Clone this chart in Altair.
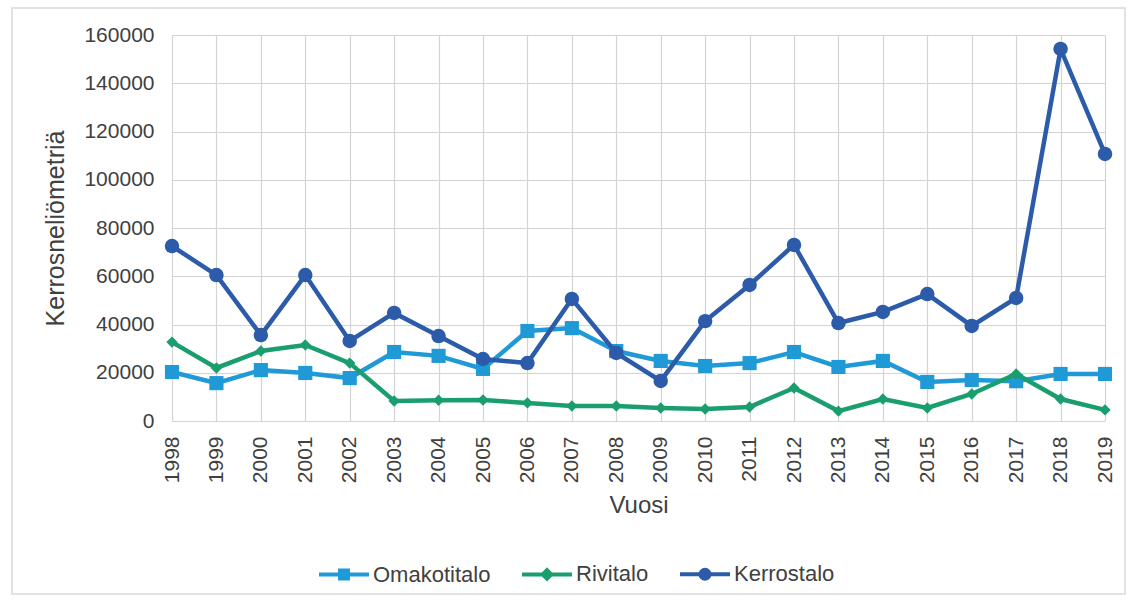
import altair as alt
import pandas as pd

years = list(range(1998, 2020))
series = ["Omakotitalo", "Rivitalo", "Kerrostalo"]
colors = ["#1F9AD6", "#1A9E6E", "#2B5BA9"]
shapes = ["square", "diamond", "circle"]
sizes = [200, 130, 210]

omakotitalo = [20300, 15700, 21100, 19900, 17800, 28600, 27000, 21600, 37300, 38500, 29000,
               24900, 22800, 24000, 28600, 22400, 24900, 16200, 17000, 16500, 19500, 19500]
rivitalo = [32700, 22000, 29000, 31500, 24000, 8300, 8600, 8700, 7500, 6200, 6200,
            5400, 5000, 5800, 13700, 4100, 9100, 5400, 11200, 19500, 9100, 4600]
kerrostalo = [72500, 60500, 35600, 60500, 33200, 44800, 35200, 25700, 24000, 50600, 28200,
              16600, 41400, 56400, 73000, 40600, 45200, 52600, 39400, 51000, 154200, 110700]

y_ticks = [0, 20000, 40000, 60000, 80000, 100000, 120000, 140000, 160000]

rows = []
for name, vals in zip(series, [omakotitalo, rivitalo, kerrostalo]):
    for yr, v in zip(years, vals):
        rows.append({"Vuosi": yr, "Sarja": name, "Arvo": v})
df = pd.DataFrame(rows)

FONT = "Liberation Sans"
TXT = "#404040"

# legend symbol paths: a line with the series marker on it
SQ = "M-1,0H1M-0.16,-0.16H0.16V0.16H-0.16Z"
DI = "M-1,0H1M0,-0.17L0.17,0L0,0.17L-0.17,0Z"
CI = "M-1,0H1M0.18,0A0.18,0.18,0,1,1,-0.18,0A0.18,0.18,0,1,1,0.18,0Z"
legend_shapes = [SQ, DI, CI]

legend = alt.Legend(
    title=None,
    orient="none",
    direction="horizontal",
    legendX=145,
    legendY=512,
    labelFont=FONT,
    labelFontSize=22,
    labelColor=TXT,
    labelOffset=2,
    columnPadding=23,
    symbolSize=2500,
    symbolStrokeWidth=4,
    symbolOpacity=1,
)

x_enc = alt.X(
    "Vuosi:Q",
    scale=alt.Scale(domain=[1998, 2019], nice=False, zero=False),
    axis=alt.Axis(
        title="Vuosi",
        values=years,
        format="d",
        labelAngle=270,
        labelFont=FONT,
        labelFontSize=21,
        labelColor=TXT,
        labelPadding=15,
        titleFont=FONT,
        titleFontSize=24,
        titleFontWeight="normal",
        titleColor=TXT,
        titlePadding=11,
        domain=False,
        ticks=False,
        tickSize=0,
        grid=True,
        gridColor="#D4D4D4",
        gridWidth=1.2,
    ),
)
y_enc = alt.Y(
    "Arvo:Q",
    scale=alt.Scale(domain=[0, 160000], nice=False),
    axis=alt.Axis(
        title="Kerrosneliömetriä",
        values=y_ticks,
        format="d",
        labelFont=FONT,
        labelFontSize=21,
        labelColor=TXT,
        labelPadding=18,
        titleFont=FONT,
        titleFontSize=25,
        titleFontWeight="normal",
        titleColor=TXT,
        titlePadding=15,
        domain=False,
        ticks=False,
        tickSize=0,
        grid=True,
        gridColor="#D4D4D4",
        gridWidth=1.2,
    ),
)

frame = alt.Chart(pd.DataFrame({"k": [0]})).mark_rect(
    filled=False, stroke="#D9D9D9", strokeWidth=1.5
).encode(
    x=alt.value(-160), x2=alt.value(953), y=alt.value(-27), y2=alt.value(559)
)

layers = [frame]
for i, (name, col, shp, sz) in enumerate(zip(series, colors, shapes, sizes)):
    base = alt.Chart(df).transform_filter(alt.datum.Sarja == name)
    if i == 0:
        layers.append(base.mark_line(strokeWidth=4.5, color=col).encode(x=x_enc, y=y_enc))
    else:
        layers.append(base.mark_line(strokeWidth=4.5, color=col).encode(
            x=alt.X("Vuosi:Q"), y=alt.Y("Arvo:Q")))
    layers.append(
        base.mark_point(filled=True, opacity=1, shape=shp, size=sz, color=col)
        .encode(x=alt.X("Vuosi:Q"), y=alt.Y("Arvo:Q"))
    )

# invisible layer that only supplies the legend (line + marker symbols)
legend_layer = alt.Chart(df).mark_point(opacity=0, strokeWidth=4).encode(
    x=alt.X("Vuosi:Q"),
    y=alt.Y("Arvo:Q"),
    fill=alt.Fill("Sarja:N", scale=alt.Scale(domain=series, range=colors), legend=legend),
    stroke=alt.Stroke("Sarja:N", scale=alt.Scale(domain=series, range=colors), legend=legend),
    shape=alt.Shape("Sarja:N", scale=alt.Scale(domain=series, range=legend_shapes), legend=legend),
)
layers.append(legend_layer)

chart = alt.layer(*layers).properties(
    width=933,
    height=386,
    autosize=alt.AutoSizeParams(type="none"),
    padding={"left": 172, "top": 35, "right": 25, "bottom": 181},
    background="white",
).configure_view(stroke=None)

chart.save("out.html", embed_options={"renderer": "svg", "actions": False})
